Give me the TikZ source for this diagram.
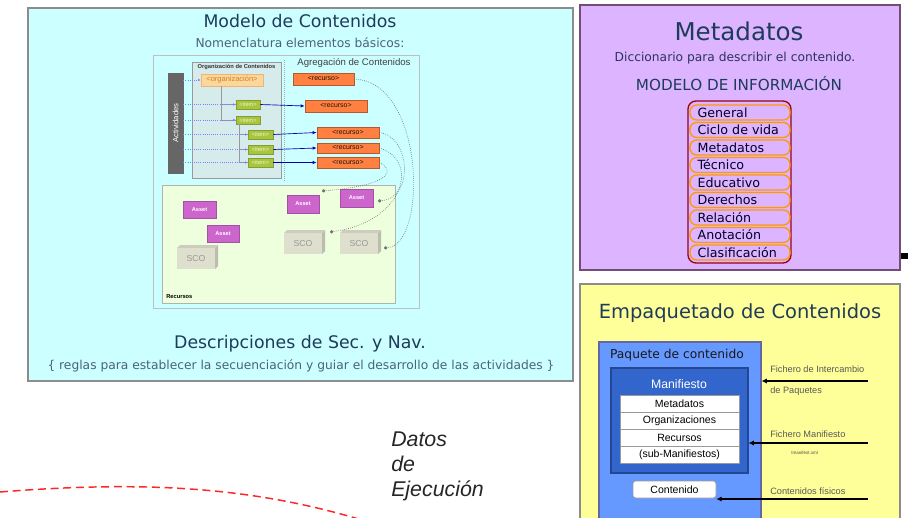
\documentclass[tikz,border=0pt]{standalone}
\usepackage{fontspec}
\setmainfont{DejaVu Sans}
\newfontfamily\arialf{Liberation Sans}
\usetikzlibrary{arrows.meta,fit}
\definecolor{cyanbg}{HTML}{CCFFFF}
\definecolor{violetbg}{HTML}{DCB4FF}
\definecolor{yellowbg}{HTML}{FFFF99}
\definecolor{titleblue}{HTML}{1F3B5A}
\definecolor{orgbg}{HTML}{D6ECEC}
\definecolor{orgfill}{HTML}{FAD79A}
\definecolor{itemfill}{HTML}{A8C63C}
\definecolor{recfill}{HTML}{FF8040}
\definecolor{resbg}{HTML}{EEFFDD}
\definecolor{assetfill}{HTML}{CC66CC}
\definecolor{scofill}{HTML}{DEDFCC}
\definecolor{paqfill}{HTML}{6699FF}
\definecolor{manfill}{HTML}{3366CC}
\newcommand\fsz[2]{\fontsize{#1}{#2}\selectfont}
\tikzset{
  panel/.style={inner sep=0pt, line width=0.9pt},
  boxfit/.style={inner sep=0pt, line width=0.5pt},
  orgitem/.style={boxfit, fill=orgfill, draw=orange!60!brown!60, text=brown!70!orange, font=\arialf\fsz{5.6}{6}},
  itembox/.style={boxfit, fill=itemfill, draw=itemfill!80!black, text=white!85!itemfill, font=\arialf\fsz{4.2}{5}},
  recbox/.style={boxfit, fill=recfill, draw=recfill!70!black, text=black!80!brown, font=\arialf\fsz{5.2}{6}},
  assetbox/.style={boxfit, fill=assetfill, draw=assetfill!80!black, text=white, font=\arialf\bfseries\fsz{4.2}{5}},
  scobox/.style={boxfit, fill=scofill, draw=black!30, text=black!40, font=\arialf\fsz{6.5}{7}},
  actline/.style={draw=blue!50, densely dotted, line width=0.6pt, -{Latex[length=2pt,width=2pt]}},
  treeline/.style={draw=black!40, line width=0.6pt},
  recarrow/.style={draw=blue!70!black, line width=0.5pt, -{Latex[length=3pt,width=2.5pt]}},
  rescurve/.style={draw=black!55, densely dotted, line width=0.5pt, -{Circle[length=2.5pt]}},
  listitem/.style={boxfit, draw=orange!80!yellow, line width=1pt, rounded corners=5pt},
  listtext/.style={anchor=west, inner sep=0pt, text=black!85!blue, font=\fsz{9.5}{10}},
  rowbox/.style={boxfit, fill=white, draw=black!40, font=\arialf\fsz{8}{9}},
  sidelabel/.style={anchor=west, inner sep=0pt, text=black!65, font=\arialf\fsz{6.9}{8}},
  blackarrow/.style={draw=black, line width=1.2pt, -{Latex[length=4pt,width=4pt]}},
}
\begin{document}
\begin{tikzpicture}[x=0.75pt,y=-0.75pt]
\useasboundingbox (0,0) rectangle (908,518);
\fill[white] (0,0) rectangle (908,518);

% ===== Modelo de Contenidos =====
\node[panel, fill=cyanbg, draw=black!45, fit={(28,8) (573,381)}] (modelo) {};
\node[text=titleblue, font=\fsz{13}{15}] (mtitle) at (300,21) {Modelo de Contenidos};
\node[text=titleblue!80, font=\fsz{9.2}{10}] (msub) at (300,43) {Nomenclatura elementos básicos:};
\node[text=titleblue, font=\fsz{13}{15}] (desc) at (300,344) {Descripciones de Sec. y Nav.};
\node[text=titleblue!80, font=\fsz{9.2}{10}] (descsub) at (301,366) {\{ reglas para establecer la secuenciación y guiar el desarrollo de las actividades \}};

% inner diagram
\node[boxfit, fill=cyanbg, draw=black!25, fit={(153,55) (419,308)}] (frame) {};
\node[boxfit, fill=orgbg, draw=black!40, fit={(192,62) (281,178)}] (org) {};
\node[anchor=north, inner sep=0pt, font=\arialf\bfseries\fsz{4.3}{5}, text=black!80] (orgt) at (236.5,64) {Organización de Contenidos};
\draw[draw=black!35, densely dotted, line width=0.5pt] (284,60) -- (284,182);
\node[font=\arialf\fsz{7.2}{8}, text=black!75] (agt) at (354,63) {Agregación de Contenidos};
\node[boxfit, fill=black!60, draw=black!60, fit={(168,73) (183,173)}] (act) {};
\node[rotate=90, text=white, font=\arialf\fsz{5.8}{6}] at (act.center) {Actividades};

\node[orgitem, fit={(201,74) (263,86)}] (orgn) {};
\node[font=\arialf\fsz{5.6}{6}, text=brown!60!orange, inner sep=0pt] at (orgn.center) {<organización>};
\node[itembox, fit={(236,100) (260,109)}] (i1) {};
\node[itembox, fit={(236,116) (260,124)}] (i2) {};
\node[itembox, fit={(248,130) (273,139)}] (i3) {};
\node[itembox, fit={(248,145) (273,154)}] (i4) {};
\node[itembox, fit={(248,158) (273,167)}] (i5) {};
\foreach \n in {i1,i2,i3,i4,i5}{\node[font=\arialf\fsz{4.2}{5}, text=white!80!itemfill, inner sep=0pt] at (\n.center) {<item>};}

\draw[treeline] (orgn.south -| 221,0) -- (221,120) -- (i2.west);
\draw[treeline] (221,104.5) -- (i1.west);
\draw[treeline] (i2.south -| 239,0) -- (239,162.5) -- (i5.west);
\draw[treeline] (239,134.5) -- (i3.west);
\draw[treeline] (239,149.5) -- (i4.west);

\foreach \n in {orgn,i1,i2,i3,i4,i5}{\draw[actline] (act.east |- \n.west) -- (\n.west);}

\node[recbox, fit={(293,73) (354,85)}] (r1) {};
\node[recbox, fit={(305,100) (367,112)}] (r2) {};
\node[recbox, fit={(317,127) (379,138)}] (r3) {};
\node[recbox, fit={(317,143) (379,153)}] (r4) {};
\node[recbox, fit={(317,157) (379,168)}] (r5) {};
\foreach \n in {r1,r2,r3,r4,r5}{\node[font=\arialf\fsz{5.2}{6}, text=black!85!brown, inner sep=0pt] at (\n.center) {<recurso>};}

\draw[recarrow] (i1.east) -- (r2.west);
\draw[recarrow] (i3.east) -- (r3.west);
\draw[recarrow] (i4.east) -- (r4.west);
\draw[recarrow] (i5.east) -- (r5.west);

\node[boxfit, fill=resbg, draw=black!30, fit={(162,185) (395,303)}] (res) {};
\node[anchor=west, inner sep=0pt, font=\arialf\bfseries\fsz{4.3}{5}] (rest) at (166,297) {Recursos};

\node[assetbox, fit={(183,201) (216,218)}] (a1) {};
\node[assetbox, fit={(207,225) (239,242)}] (a2) {};
\node[assetbox, fit={(287,195) (319,213)}] (a3) {};
\node[assetbox, fit={(340,189) (373,207)}] (a4) {};
\foreach \n in {a1,a2,a3,a4}{\node[font=\arialf\bfseries\fsz{4.2}{5}, text=white, inner sep=0pt] at (\n.center) {Asset};}

% SCO 3D boxes
\foreach \n/\xa/\ya in {s1/177/248, s2/284/233, s3/340/233}{
  \fill[scofill!85!black] (\xa+38,\ya) -- (\xa+41,\ya-3) -- (\xa+41,\ya+18) -- (\xa+38,\ya+21) -- cycle;
  \fill[scofill!92!black] (\xa,\ya) -- (\xa+3,\ya-3) -- (\xa+41,\ya-3) -- (\xa+38,\ya) -- cycle;
  \node[scobox, draw=none, fit={(\xa,\ya) (\xa+38,\ya+21)}] (\n) {};
  \node[font=\arialf\fsz{6.5}{7}, text=black!40, inner sep=0pt] at (\n.center) {SCO};
}

\coordinate (d1) at (384,248);
\coordinate (d2) at (378,201);
\coordinate (d3) at (330,232);
\coordinate (d4) at (322,191);
\draw[rescurve] (r1.east) .. controls (425,82) and (428,245) .. (d1);
\draw[rescurve] (r3.east) .. controls (410,136) and (415,198) .. (d2);
\draw[rescurve] (r4.east) .. controls (420,160) and (405,222) .. (d3);
\draw[rescurve] (r5.east) .. controls (398,172) and (385,186) .. (d4);

% ===== Metadatos =====
\node[panel, fill=violetbg, draw=black!55!violet!70, fit={(580,5) (900,270)}] (meta) {};
\node[text=titleblue, font=\fsz{18.4}{20}] (metat) at (739,31) {Metadatos};
\node[text=titleblue!85!violet, font=\fsz{9.2}{10}] (metas) at (735,58) {Diccionario para describir el contenido.};
\node[text=titleblue, font=\fsz{11.4}{13}] (metam) at (739,84) {MODELO DE INFORMACIÓN};
\node[boxfit, draw=purple!60!red!70!black, line width=1pt, rounded corners=6pt, fit={(688,101) (791,263)}] (list) {};
\foreach \t [count=\k from 0] in {General,Ciclo de vida,Metadatos,Técnico,Educativo,Derechos,Relación,Anotación,Clasificación}{
  \pgfmathsetmacro\ytop{105+17.5*\k}
  \node[listitem, fit={(690,\ytop) (790,\ytop+15)}] (li\k) {};
  \node[listtext] at ([xshift=6pt]li\k.west) {\t};
}
\coordinate (stub) at (908,256);
\draw[line width=4pt] (meta.east |- stub) -- (stub);

% ===== Empaquetado =====
\node[panel, fill=yellowbg, draw=black!45, fit={(580,284) (900,530)}] (emp) {};
\node[text=titleblue, font=\fsz{14.6}{16}] (empt) at (740,313) {Empaquetado de Contenidos};
\node[boxfit, fill=paqfill, draw=blue!40!black!60, line width=0.8pt, fit={(599,342) (761,540)}] (paq) {};
\node[font=\fsz{9.2}{10}, text=black!90] (paqt) at (677,355) {Paquete de contenido};
\node[boxfit, fill=manfill, draw=manfill!70!black, line width=0.8pt, fit={(611,368) (748,473)}] (man) {};
\node[text=white, font=\arialf\fsz{9.2}{10}] (mant) at (679,384) {Manifiesto};
\foreach \t [count=\k from 0] in {Metadatos,Organizaciones,Recursos,(sub-Manifiestos)}{
  \pgfmathsetmacro\ytop{395+17*\k}
  \node[rowbox, fit={(620,\ytop) (739,\ytop+17)}] (row\k) {};
  \node[font=\arialf\fsz{7.9}{9}, inner sep=0pt] at (row\k.center) {\t};
}
\node[boxfit, fill=white, draw=black!40, rounded corners=2pt, fit={(633,481) (716,498)}] (cont) {};
\node[font=\arialf\fsz{7.9}{9}, inner sep=0pt] at (cont.center) {Contenido};

\node[sidelabel] (l1) at (770,369) {Fichero de Intercambio};
\node[sidelabel] (l2) at (770,391) {de Paquetes};
\node[sidelabel] (l3) at (770,434) {Fichero Manifiesto};
\node[anchor=west, inner sep=0pt, font=\arialf\fsz{3.4}{4}, text=black!70] (l4) at (791,453) {Imanifest.xml};
\node[sidelabel] (l5) at (770,491) {Contenidos físicos};
\coordinate (e1) at (868,381);
\coordinate (e2) at (868,443);
\coordinate (e3) at (868,499);
\draw[blackarrow] (e1) -- (e1 -| paq.east);
\draw[blackarrow] (e2) -- (e2 -| man.east);
\draw[blackarrow] (e3) -- (e3 -| cont.east);

% ===== Datos de Ejecucion =====
\node[anchor=north west, align=left, inner sep=0pt, text=black!85, font=\arialf\itshape\fsz{16}{18.75}] (datos) at (391,432) {Datos\\de\\Ejecución};
\coordinate (rs) at (0,492);
\coordinate (re) at (362,520);
\draw[red!85, line width=1.1pt, dash pattern=on 6pt off 3.5pt] (rs) .. controls (150,480) and (255,488) .. (re);
\end{tikzpicture}
\end{document}
